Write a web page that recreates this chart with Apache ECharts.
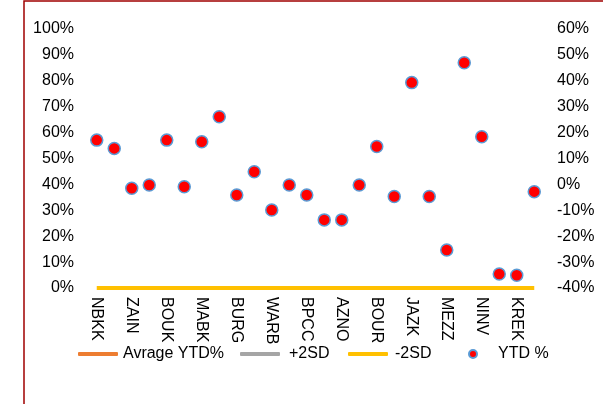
<!DOCTYPE html>
<html>
  <head>
    <meta charset="utf-8">
    <title>YTD %</title>
    <script src="https://cdn.jsdelivr.net/npm/echarts@6/dist/echarts.min.js"></script>
    <style>
      html, body { margin: 0; padding: 0; background: #fff; }
      #chart1 { width: 603px; height: 404px; }
    </style>
  </head>
  <body>
    <div id="chart1"></div>
  </body>
  <script>
    // categories (only every other one is labelled on the axis)
    var tickers = ['NBKK','GBKK','ZAIN','AUBK','BOUK','KIBK','MABK','ABKK','BURG','CBKK',
                   'WARB','AGLT','BPCC','HUMN','AZNO','KPRO','BOUR','NIND','JAZK','MARF',
                   'MEZZ','ALAF','NINV','SCEM','KREK','ARZN'];
    // YTD % (right axis)
    var ytd = [17.1, 13.9, -1.5, -0.2, 17.1, -0.9, 16.5, 26.1, -4.1, 4.9,
               -9.9, -0.2, -4.1, -13.7, -13.7, -0.2, 14.6, -4.7, 39.3, -4.7,
               -25.3, 47.0, 18.4, -34.6, -35.1, -2.8];
    // -2SD line (left axis)
    var minus2sd = [0,0,0,0,0,0,0,0,0,0,0,0,0,0,0,0,0,0,0,0,0,0,0,0,0,0];
    var avgYtd = [];
    var plus2sd = [];

    var font = 'Liberation Sans, Arial, sans-serif';
    var myChart = echarts.init(document.getElementById('chart1'));
    var option = {
      animation: false,
      textStyle: { fontFamily: font },
      graphic: [
        {
          type: 'rect',
          shape: { x: 24, y: 1, width: 700, height: 600 },
          style: { fill: 'none', stroke: '#a00000', lineWidth: 1.5 }
        }
      ],
      grid: { left: 88, right: 60, top: 29, bottom: 116 },
      legend: [
        { left: 78, top: 346, padding: 0, itemWidth: 40, itemHeight: 4, icon: 'roundRect', data: ['Avrage YTD%'],
          textStyle: { fontSize: 16, color: '#000', fontFamily: font } },
        { left: 240, top: 346, padding: 0, itemWidth: 40, itemHeight: 4, icon: 'roundRect', data: ['+2SD'],
          textStyle: { fontSize: 16, color: '#000', fontFamily: font, padding: [0, 0, 0, 4] } },
        { left: 348, top: 346, padding: 0, itemWidth: 40, itemHeight: 4, icon: 'roundRect', data: ['-2SD'],
          textStyle: { fontSize: 16, color: '#000', fontFamily: font, padding: [0, 0, 0, 2] } },
        { left: 468, top: 346, padding: 0, itemWidth: 8, itemHeight: 8, icon: 'circle', data: ['YTD %'],
          textStyle: { fontSize: 16, color: '#000', fontFamily: font, padding: [0, 0, 0, 16] } }
      ],
      xAxis: {
        type: 'category',
        data: tickers,
        boundaryGap: true,
        axisLine: { show: false },
        axisTick: { show: false },
        axisLabel: { interval: 1, rotate: -90, margin: 9, fontSize: 16, color: '#000', fontFamily: font }
      },
      yAxis: [
        {
          type: 'value', min: 0, max: 100, interval: 10,
          splitLine: { show: false },
          axisLine: { show: false },
          axisTick: { show: false },
          axisLabel: { margin: 14, fontSize: 16, color: '#000', fontFamily: font, formatter: '{value}%' }
        },
        {
          type: 'value', min: -40, max: 60, interval: 10,
          splitLine: { show: false },
          axisLine: { show: false },
          axisTick: { show: false },
          axisLabel: { margin: 14, fontSize: 16, color: '#000', fontFamily: font, formatter: '{value}%' }
        }
      ],
      series: [
        { name: 'Avrage YTD%', type: 'line', yAxisIndex: 0, data: avgYtd, showSymbol: false,
          itemStyle: { color: '#ed7d31' }, lineStyle: { width: 4 } },
        { name: '+2SD', type: 'line', yAxisIndex: 0, data: plus2sd, showSymbol: false,
          itemStyle: { color: '#a5a5a5' }, lineStyle: { width: 4 } },
        { name: '-2SD', type: 'line', yAxisIndex: 0, data: minus2sd, showSymbol: false,
          itemStyle: { color: '#ffc000' }, lineStyle: { width: 4, cap: 'butt' } },
        { name: 'YTD %', type: 'scatter', yAxisIndex: 1, data: ytd, symbolSize: 12, z: 5,
          itemStyle: { color: '#ff0000', borderColor: '#5b9bd5', borderWidth: 1.5, opacity: 1 } }
      ]
    };
    myChart.setOption(option);
  </script>
</html>
